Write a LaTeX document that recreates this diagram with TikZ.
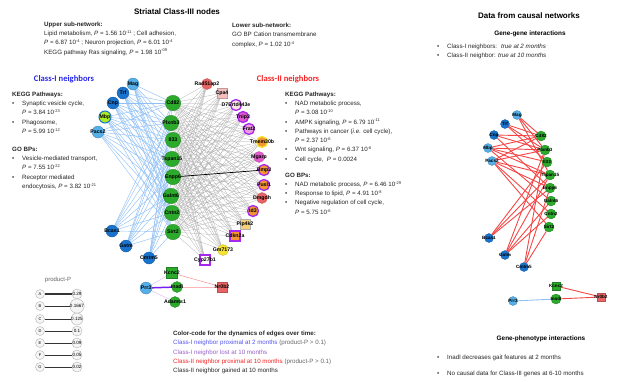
\documentclass[tikz,border=0pt]{standalone}
\usepackage{fontspec}
\setmainfont{Liberation Sans}
\newfontfamily\calibfont{Carlito}
\usetikzlibrary{backgrounds}
\definecolor{gcol}{RGB}{44,170,44}
\definecolor{blt}{RGB}{85,175,232}
\definecolor{bdk}{RGB}{25,115,205}
\definecolor{redn}{RGB}{232,100,100}
\definecolor{pinkn}{RGB}{242,190,190}
\definecolor{purp}{RGB}{165,40,235}
\definecolor{orng}{RGB}{242,150,50}
\definecolor{yel}{RGB}{246,226,50}
\definecolor{magn}{RGB}{225,90,205}
\definecolor{bedge}{RGB}{145,192,245}
\definecolor{redge}{RGB}{245,70,70}
\definecolor{tblue}{RGB}{40,40,235}
\definecolor{tred}{RGB}{245,35,35}
\definecolor{tpurp}{RGB}{150,95,200}
\newcommand\bul{\makebox[10pt][l]{\textbullet}}
\newcommand\ind{\hspace*{10pt}}
\newcommand\Pe{\textit{P}}
\newcommand\sx[1]{\raisebox{0.7ex}{\fontsize{4}{4}\selectfont #1}}
\tikzset{
 lab/.style={font=\fontsize{5.2}{6}\selectfont\bfseries, inner sep=0pt},
 labs/.style={font=\fontsize{4.6}{5}\selectfont\bfseries, inner sep=0pt},
 nd/.style={inner sep=0pt, label={[lab]center:#1}},
 rn/.style={inner sep=0pt, label={[labs]center:#1}},
 gC/.style={circle, minimum size=15.5pt, fill=gcol, draw=gcol!75!black, line width=0.3pt},
 gS/.style={rectangle, minimum size=11pt, fill=gcol, draw=gcol!75!black, line width=0.3pt},
 bL/.style={circle, minimum size=12pt, fill=blt, draw=blt!75!black, line width=0.3pt},
 bD/.style={circle, minimum size=12pt, fill=bdk, draw=bdk!75!black, line width=0.3pt},
 cII/.style={circle, minimum size=11pt, line width=0.3pt},
 sII/.style={rectangle, minimum size=10pt, line width=0.3pt},
 ring/.style={draw=purp, line width=1.3pt},
 rgC/.style={circle, minimum size=10pt, fill=gcol, draw=gcol!75!black, line width=0.3pt},
 rgS/.style={rectangle, minimum size=8pt, fill=gcol, draw=gcol!75!black, line width=0.3pt},
 rbL/.style={circle, minimum size=9pt, fill=blt, draw=blt!75!black, line width=0.3pt},
 rbD/.style={circle, minimum size=9pt, fill=bdk, draw=bdk!75!black, line width=0.3pt},
 textblock/.style={anchor=north west, inner sep=0pt, align=left, font=\fontsize{6.2}{9.3}\selectfont, text=black!85},
 bedg/.style={draw=bedge, line width=0.45pt},
 gedg/.style={draw=gray!65, line width=0.25pt},
 redg/.style={draw=redge, line width=0.9pt},
}
\begin{document}
\begin{tikzpicture}[x=1pt,y=-1pt]
\useasboundingbox (0,0) rectangle (625,381);

% ---------- titles and text ----------
\node[font=\fontsize{8}{9}\selectfont\bfseries] (title) at (177,12) {Striatal Class-III nodes};
\node[textblock] (up) at (44,21.5) {\textbf{Upper sub-network:}\\
Lipid metabolism, \Pe{} = 1.56 10\sx{-11} ; Cell adhesion,\\
\Pe{} = 6.87 10\sx{-4} ; Neuron projection, \Pe{} = 6.01 10\sx{-4}\\
KEGG pathway Ras signaling, \Pe{} = 1.98 10\sx{-09}};
\node[textblock] (low) at (232,23) {\textbf{Lower sub-network:}\\
GO BP Cation transmembrane\\
complex, \Pe{} = 1.02 10\sx{-4}};

\node[font=\fontsize{8.6}{9}\selectfont\calibfont\bfseries, text=tblue] (c1h) at (64,79) {Class-I neighbors};
\node[font=\fontsize{8.6}{9}\selectfont\calibfont\bfseries, text=tred] (c2h) at (288,79) {Class-II neighbors};

\node[textblock] (lblock) at (12,91.5) {\textbf{KEGG Pathways:}\\
\bul Synaptic vesicle cycle,\\
\ind \Pe{} = 3.84 10\sx{-23}\\
\bul Phagosome,\\
\ind \Pe{} = 5.99 10\sx{-12}\\[8.5pt]
\textbf{GO BPs:}\\
\bul Vesicle-mediated transport,\\
\ind \Pe{} = 7.55 10\sx{-22}\\
\bul Receptor mediated\\
\ind endocytosis, \Pe{} = 3.82 10\sx{-21}};

\node[textblock] (rblock) at (285,91.5) {\textbf{KEGG Pathways:}\\
\bul NAD metabolic process,\\
\ind \Pe{} = 3.08 10\sx{-10}\\
\bul AMPK signaling, \Pe{} = 6.79 10\sx{-11}\\
\bul Pathways in cancer (\textit{i.e.} cell cycle),\\
\ind \Pe{} = 2.37 10\sx{-6}\\
\bul Wnt signaling, \Pe{} = 6.37 10\sx{-6}\\
\bul Cell cycle, \ \Pe{} = 0.0024\\[6.5pt]
\textbf{GO BPs:}\\
\bul NAD metabolic process, \Pe{} = 6.46 10\sx{-29}\\
\bul Response to lipid, \Pe{} = 4.91 10\sx{-8}\\
\bul Negative regulation of cell cycle,\\
\ind \Pe{} = 5.75 10\sx{-6}};

\node[textblock] (ccode) at (173,331) {\textbf{Color-code for the dynamics of edges over time:}\\
\textcolor{tblue!80}{Class-I neighbor proximal at 2 months} \textcolor{gray!80!black}{(product-P > 0.1)}\\
\textcolor{tpurp}{Class-I neighbor lost at 10 months}\\
\textcolor{tred}{Class-II neighbor proximal at 10 months} \textcolor{gray!80!black}{(product-P > 0.1)}\\
Class-II neighbor gained at 10 months};

\node[font=\fontsize{8}{9}\selectfont\bfseries] (dtitle) at (529,16) {Data from causal networks};
\node[font=\fontsize{6.4}{7}\selectfont\bfseries] (gg) at (530,34) {Gene-gene interactions};
\node[textblock] (ggb) at (437,43.5) {\bul Class-I neighbors: \ \textit{true at 2 months}\\
\bul Class-II neighbor: \textit{true at 10 months}};
\node[font=\fontsize{6.4}{7}\selectfont\bfseries] (gp) at (541,339) {Gene-phenotype interactions};
\node[textblock, font=\fontsize{6.2}{16}\selectfont] (gpb) at (437,354.5) {\bul Inadl decreases gait features at 2 months\\
\bul No causal data for Class-III genes at 6-10 months};

% ---------- product-P legend ----------
\node[font=\fontsize{6}{7}\selectfont, text=gray!75!black] (pp) at (58,280) {product-P};
\foreach \l/\v/\yy/\w in {A/0.29/294/1.3, B/0.1667/306/1.0, C/0.125/319/0.85, D/0.1/331/0.7, E/0.09/343/0.55, F/0.05/355/0.4, G/0.02/367/0.3}{
  \node[circle, draw=gray!60, fill=gray!8, minimum size=9pt, inner sep=0pt, font=\fontsize{4}{4}\selectfont] (p\l) at (40,\yy) {\l};
  \node[circle, draw=gray!60, fill=gray!8, minimum size=10pt, inner sep=0pt, font=\fontsize{4.6}{5}\selectfont] (v\l) at (77,\yy) {\v};
  \draw[line width=\w pt, gray!40!black] (p\l) -- (v\l);
}

% ---------- main network nodes ----------
\node[bL, nd=Mag] (mag) at (133,84) {};
\node[bD, nd=Trf] (trf) at (123,93) {};
\node[bD, nd=Cnp] (cnp) at (113,103) {};
\node[circle, minimum size=12pt, fill=yel!70!green, draw=bdk, line width=1pt, nd=Mbp] (mbp) at (105,117) {};
\node[bL, nd=Pacs2] (pacs) at (98,132) {};
\node[bD, nd=Bcas1] (bcas) at (112,231) {};
\node[bD, nd=Gatm] (gatm) at (126,246) {};
\node[bD, nd=Cmtm5] (cmtm) at (149,258) {};

\node[gC, nd=Cd82] (cd) at (173,103) {};
\node[gC, nd=Plxnb3] (plx) at (171,123) {};
\node[gC, nd=Il33] (il) at (173,140) {};
\node[gC, nd=Tspan15] (tsp) at (172,159) {};
\node[gC, nd=Enpp6] (enpp) at (173,177) {};
\node[gC, nd=Galnt6] (galnt) at (171,196) {};
\node[gC, nd=Cntn2] (cntn) at (172,213) {};
\node[gC, nd=Sirt2] (sirt) at (173,232) {};

\node[cII, fill=redn, draw=redn!80!black, nd=Rad51ap2] (c1) at (207,84) {};
\node[sII, fill=pinkn, draw=pinkn!80!black, nd=Cpa4] (c2) at (222,93) {};
\node[cII, fill=pinkn!40, ring, nd=D7Ertd443e] (c3) at (236,105) {};
\node[cII, fill=magn, ring, nd=Tnip3] (c4) at (243,117) {};
\node[cII, fill=magn!60, ring, nd=Frat2] (c5) at (249,129) {};
\node[cII, fill=orng, draw=yel, line width=1.3pt, nd=Tmem30b] (c6) at (262,142) {};
\node[cII, fill=magn, draw=magn!80!black, nd=Mgarp] (c7) at (259,157) {};
\node[cII, fill=orng, ring, nd=Bmp3] (c8) at (264,170) {};
\node[cII, fill=orng, ring, nd=Pusl1] (c9) at (264,185) {};
\node[cII, fill=redn, draw=redn!80!black, nd=Dmgdh] (c10) at (262,198) {};
\node[cII, fill=orng, ring, nd=Id3] (c11) at (253,211) {};
\node[sII, fill=yel!50!pinkn, draw=gray!60, nd=Pip4k2] (c12) at (245,224) {};
\node[sII, fill=orng, ring, nd=Cdkn2a] (c13) at (235,236) {};
\node[cII, fill=yel, draw=yel!80!black, nd=Gm7173] (c14) at (223,250) {};
\node[sII, fill=white, ring, nd=Cyp27b1] (c15) at (205,260) {};

\node[gS, nd=Kcnc2] (kcnc) at (172,273) {};
\node[gC, minimum size=11pt, nd=Inadl] (inadl) at (177,287) {};
\node[bL, nd=Prr3] (prr) at (146,288) {};
\node[gC, minimum size=11pt, nd=Adamts1] (adam) at (175,302) {};
\node[sII, fill=redn, draw=redn!80!black, nd=Nr0b2] (nr) at (222,287) {};

% ---------- main network edges ----------
\begin{scope}[on background layer]
\foreach \i in {1,...,15}{
  \foreach \b in {cd,plx,il,tsp,enpp,galnt,cntn,sirt}{
    \draw[gedg] (c\i) -- (\b);
  }
}
\foreach \a in {mag,trf,cnp,mbp,pacs,bcas,gatm,cmtm}{
  \foreach \b in {cd,plx,il,tsp,enpp,galnt,cntn,sirt}{
    \draw[bedg] (\a) -- (\b);
  }
}
\draw[line width=0.7pt, black] (enpp) -- (c8);
\draw[redge!60, line width=0.5pt] (kcnc) -- (nr);
\draw[redge!40, line width=0.5pt] (inadl) -- (nr);
\draw[purp!70!blue, line width=1.5pt] (prr) -- (inadl);
\draw[purp!30, line width=0.5pt] (prr) -- (kcnc);
\draw[purp!30, line width=0.5pt] (prr) -- (adam);
\end{scope}

% ---------- right network ----------
\node[rbL, rn=Mag] (Rmag) at (517,115) {};
\node[rbD, rn=Trf] (Rtrf) at (505,124) {};
\node[rbD, rn=Cnp] (Rcnp) at (494,135) {};
\node[rbL, rn=Mbp] (Rmbp) at (488,148) {};
\node[rbL, rn=Pacs2] (Rpacs) at (492,161) {};
\node[rbD, rn=Bcas1] (Rbcas) at (489,238) {};
\node[rbD, rn=Gatm] (Rgatm) at (505,255) {};
\node[rbD, rn=Cmtm5] (Rcmtm) at (524,267) {};

\node[rgC, rn=Cd82] (Rcd) at (541,136) {};
\node[rgC, rn=Plxnb3] (Rplx) at (545,150) {};
\node[rgC, rn=Il33] (Ril) at (547,162) {};
\node[rgC, rn=Tspan15] (Rtsp) at (550,175) {};
\node[rgC, rn=Enpp6] (Renpp) at (550,188) {};
\node[rgC, rn=Galnt6] (Rgalnt) at (551,201) {};
\node[rgC, rn=Cntn2] (Rcntn) at (551,214) {};
\node[rgC, rn=Sirt2] (Rsirt) at (549,227) {};

\node[rgS, rn=Kcnc2] (Rkcnc) at (556,286) {};
\node[rgC, rn=Inadl] (Rinadl) at (556,299) {};
\node[rbL, rn=Prr3] (Rprr) at (513,301) {};
\node[rectangle, minimum size=8pt, fill=redn, draw=redn!80!black, inner sep=0pt, label={[labs]center:Nr0b2}] (Rnr) at (601,297) {};

\begin{scope}[on background layer]
\foreach \a/\b in {Rmag/Rcd, Rmag/Rplx, Rmag/Rtsp, Rtrf/Rcd, Rtrf/Rplx, Rtrf/Ril,
  Rcnp/Rcd, Rcnp/Rplx, Rcnp/Renpp, Rmbp/Rcd, Rmbp/Rplx, Rmbp/Ril, Rmbp/Rtsp, Rmbp/Rgalnt,
  Rpacs/Rcd, Rpacs/Rplx, Rpacs/Rtsp, Rpacs/Renpp, Rpacs/Rcntn, Rpacs/Rsirt,
  Rbcas/Ril, Rbcas/Rtsp, Rbcas/Renpp, Rgatm/Rplx, Rgatm/Rtsp, Rgatm/Rgalnt, Rgatm/Rcntn,
  Rcmtm/Rplx, Rcmtm/Renpp, Rcmtm/Rsirt}{
  \draw[redg] (\a) -- (\b);
}
\draw[redg] (Rkcnc) -- (Rnr);
\draw[redg] (Rinadl) -- (Rnr);
\draw[bedge, line width=0.9pt] (Rprr) -- (Rinadl);
\end{scope}
\end{tikzpicture}
\end{document}
